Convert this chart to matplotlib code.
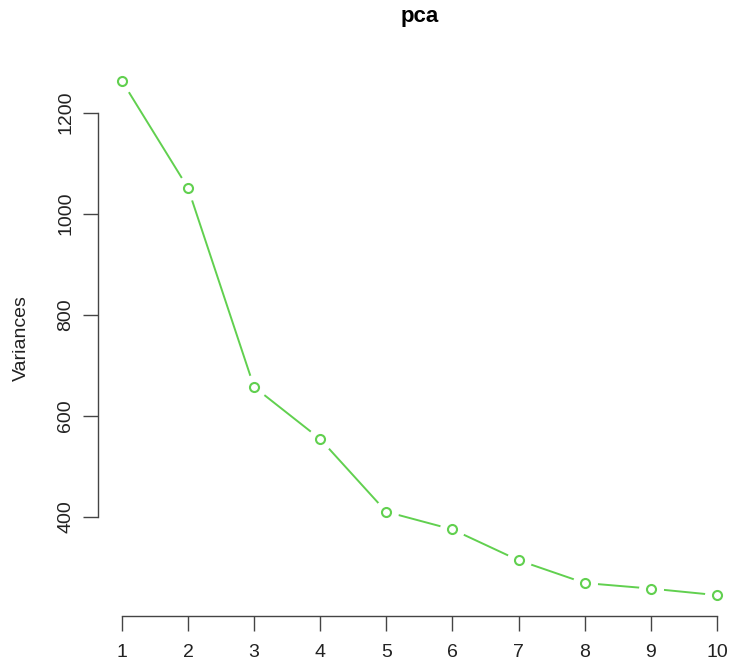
import numpy as np
import matplotlib.pyplot as plt

plt.rcParams['font.family'] = ['Liberation Sans', 'DejaVu Sans']

# variances of the first ten principal components
components = np.arange(1, 11)
variances = [1263, 1051, 657, 554, 410, 375, 314, 269, 258, 245]
y_ticks = [400, 600, 800, 1000, 1200]

green = '#61D04F'

fig = plt.figure(figsize=(7.32, 6.65), dpi=100)
ax = fig.add_axes([0.1339, 0.0741, 0.878, 0.8354])

# line with gaps around each point (R style type="b")
ax.plot(components, variances, color=green, lw=1.4, zorder=1)
ax.plot(components, variances, 'o', ms=18, mfc='white', mec='none', zorder=2)
ax.plot(components, variances, 'o', ms=6.5, mfc='white', mec=green, mew=1.5, zorder=3)

span_x = components.max() - components.min()
span_y = max(variances) - min(variances)
ax.set_xlim(components.min() - 0.04 * span_x, components.max() + 0.04 * span_x)
ax.set_ylim(min(variances) - 0.04 * span_y, max(variances) + 0.04 * span_y)

ax.set_xticks(components)
ax.set_yticks(y_ticks)
ax.set_yticklabels([str(v) for v in y_ticks], rotation=90, va='center')
ax.tick_params(axis='both', length=11, width=1, color='#444444', labelsize=14,
               labelcolor='#222222')
ax.tick_params(axis='y', pad=6)
ax.tick_params(axis='x', pad=9)

for side in ['top', 'right']:
    ax.spines[side].set_visible(False)
ax.spines['bottom'].set_bounds(components.min(), components.max())
ax.spines['left'].set_bounds(min(y_ticks), max(y_ticks))
for side in ['bottom', 'left']:
    ax.spines[side].set_color('#444444')
    ax.spines[side].set_linewidth(1)

ax.set_ylabel('Variances', fontsize=14, color='#222222', labelpad=20)
fig.text(0.5735, 0.975, 'pca', fontsize=16, fontweight='bold', ha='center', va='center')

fig.savefig('out.png', dpi=100)
